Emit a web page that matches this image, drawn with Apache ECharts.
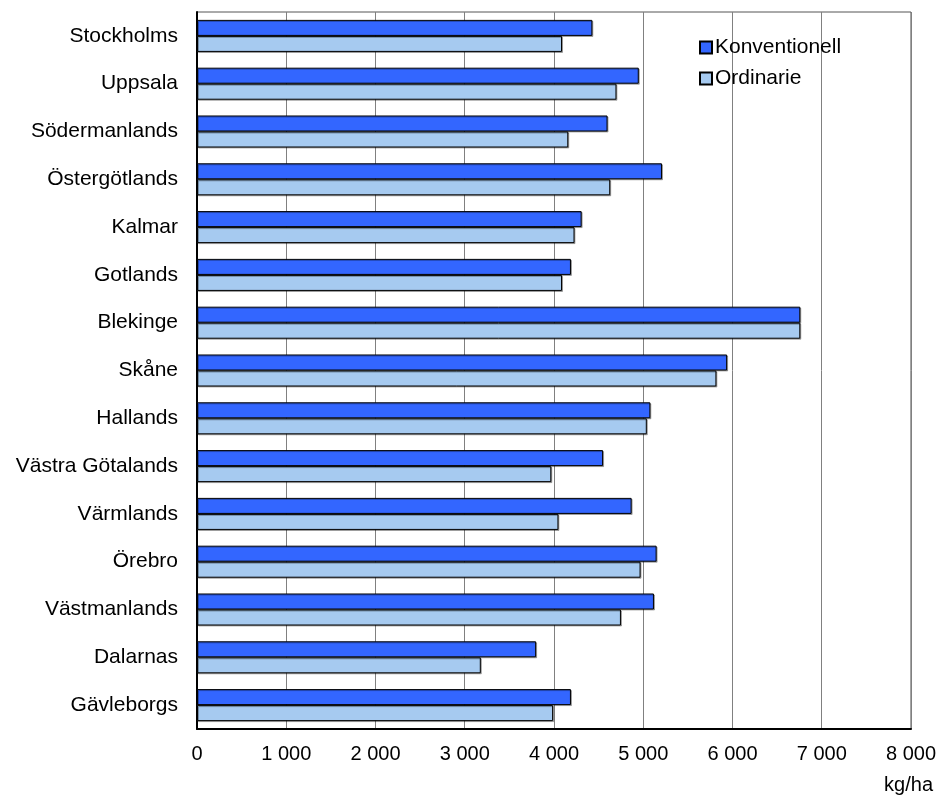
<!DOCTYPE html>
<html>
<head>
<meta charset="utf-8">
<script src="https://cdn.jsdelivr.net/npm/echarts@6/dist/echarts.min.js"></script>
<style>
  html, body { margin: 0; padding: 0; background: #fff; }
  #main { width: 939px; height: 795px; }
</style>
</head>
<body>
<div id="main"></div>
<script>
var lan = ['Stockholms', 'Uppsala', 'Södermanlands', 'Östergötlands', 'Kalmar',
  'Gotlands', 'Blekinge', 'Skåne', 'Hallands', 'Västra Götalands',
  'Värmlands', 'Örebro', 'Västmanlands', 'Dalarnas', 'Gävleborgs'];
var konventionell = [4430, 4950, 4600, 5210, 4310, 4190, 6760, 5940, 5080, 4550, 4870, 5150, 5120, 3800, 4190];
var ordinarie = [4090, 4700, 4160, 4630, 4230, 4090, 6760, 5820, 5040, 3970, 4050, 4970, 4750, 3180, 3990];

var font = 'Liberation Sans, Arial, sans-serif';

var myChart = echarts.init(document.getElementById('main'));

// formatera tal med mellanslag som tusentalsavgränsare
function tusen(v) {
  return String(v).replace(/\B(?=(\d{3})+(?!\d))/g, ' ');
}

var option = {
  animation: false,
  backgroundColor: '#fff',
  textStyle: { fontFamily: font },
  title: {
    text: 'kg/ha',
    right: 6,
    bottom: 0,
    padding: 0,
    textStyle: { fontFamily: font, fontSize: 20, fontWeight: 'normal', color: '#000' }
  },
  legend: {
    orient: 'vertical',
    left: 694,
    top: 32,
    itemWidth: 12,
    itemHeight: 12,
    itemGap: 10,
    icon: 'rect',
    textStyle: { fontFamily: font, fontSize: 21, color: '#000', padding: [0, 0, 0, -2] },
    data: ['Konventionell', 'Ordinarie']
  },
  grid: {
    left: 197,
    right: 28,
    top: 12,
    bottom: 66,
    show: true,
    borderColor: '#555',
    borderWidth: 1
  },
  xAxis: {
    type: 'value',
    min: 0,
    max: 8000,
    interval: 1000,
    axisLine: { show: true, lineStyle: { color: '#000', width: 2 } },
    axisTick: { show: false },
    axisLabel: {
      fontFamily: font, fontSize: 20, color: '#000', margin: 15,
      formatter: function (v) { return tusen(v); }
    },
    splitLine: { show: true, lineStyle: { color: '#808080', width: 1 } }
  },
  yAxis: {
    type: 'category',
    inverse: true,
    data: lan,
    axisLine: { show: true, lineStyle: { color: '#000', width: 2 } },
    axisTick: { show: false },
    axisLabel: { fontFamily: font, fontSize: 21, color: '#000', margin: 19 }
  },
  series: [
    {
      name: 'Konventionell',
      type: 'bar',
      data: konventionell,
      barGap: '0%',
      barCategoryGap: '33%',
      itemStyle: {
        color: '#3366FF',
        borderColor: '#000',
        borderWidth: 1,
        shadowColor: 'rgba(0,0,0,0.3)',
        shadowOffsetX: 1,
        shadowOffsetY: 1
      }
    },
    {
      name: 'Ordinarie',
      type: 'bar',
      data: ordinarie,
      itemStyle: {
        color: '#A6CAF0',
        borderColor: '#000',
        borderWidth: 1,
        shadowColor: 'rgba(0,0,0,0.3)',
        shadowOffsetX: 1,
        shadowOffsetY: 1
      }
    }
  ]
};

myChart.setOption(option);
</script>
</body>
</html>
